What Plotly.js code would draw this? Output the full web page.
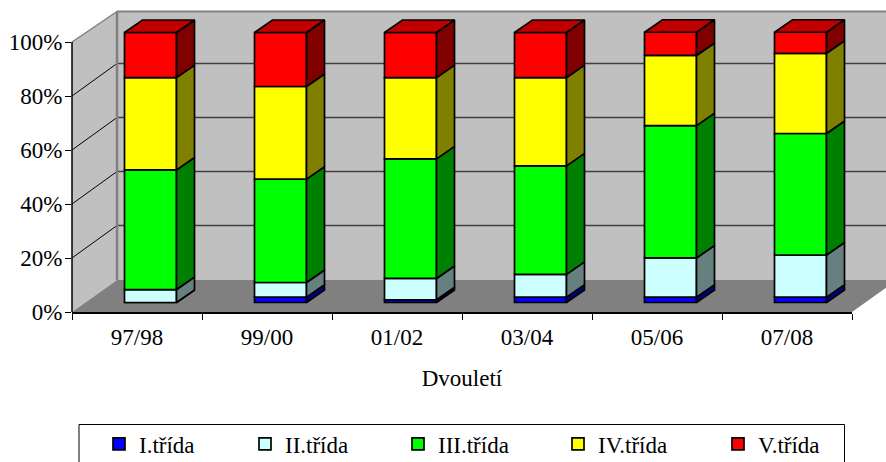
<!DOCTYPE html>
<html>
<head>
<meta charset="utf-8">
<script src="https://cdn.plot.ly/plotly-3.0.1.min.js"></script>
<style>html,body{margin:0;padding:0;background:#fff;overflow:hidden}</style>
</head>
<body>
<div id="chart" style="width:886px;height:462px"></div>
<script>
const categories = ["97/98","99/00","01/02","03/04","05/06","07/08"];
const seriesNames = ["I.třída","II.třída","III.třída","IV.třída","V.třída"];
const trida1 = [0,2,1,2,2,2];
const trida2 = [4.8,5.4,7.9,8.4,14.5,15.6];
const trida3 = [44.3,38.3,44.3,40.2,49,45];
const trida4 = [34.2,34.3,30.1,32.7,26,29.7];
const trida5 = [16.7,20,16.7,16.7,8.6,7.8];
const frontColors = ["#0000FF","#CCFFFF","#00FF00","#FFFF00","#FF0000"];
const sideColors  = ["#000080","#668080","#008000","#808000","#800000"];
const topColor = "#C00000";
const tickPercents = [0,20,40,60,80,100];
const legendLeft = [99,245,398,558,718];

const allSeries = [trida1,trida2,trida3,trida4,trida5];
// pixel geometry: T is where 100 % sits, PT the top of the Plotly plot rectangle
const L=72,R=852,T=42,PT=6,B=312,W=R-L;
const pxPerCat=W/categories.length, pxPerPct=(B-T)/100;
const wallDX=45, wallTopDY=30.5, wallGridDY=32.5, wallFloorDY=32;  // depth of the chart box
const barDX=13.5, barDY=9.5;         // front face of the bars inside the box
const depthDX=18, depthDY=12.5;      // depth of a bar
const barW=52;

const px=v=>(v-L)/W, py=v=>(B-v)/(B-PT);
const pth=pts=>"M"+pts.map(p=>px(p[0])+","+py(p[1])).join("L")+"Z";
const shape=(pts,fill)=>({type:"path",xref:"paper",yref:"paper",layer:"below",path:pth(pts),fillcolor:fill,line:{width:0}});
const seg=(x0,y0,x1,y1,color,width)=>({type:"line",xref:"paper",yref:"paper",layer:"below",x0:px(x0),y0:py(y0),x1:px(x1),y1:py(y1),line:{color:color,width:width}});

const shapes=[
  shape([[L+wallDX,T-wallTopDY],[R+wallDX,T-wallTopDY],[R+wallDX,B-wallFloorDY],[L+wallDX,B-wallFloorDY]],"#C0C0C0"),
  shape([[L,T],[L+wallDX,T-wallTopDY],[L+wallDX,B-wallFloorDY],[L,B]],"#C0C0C0"),
  shape([[L,B],[L+wallDX,B-wallFloorDY],[R+wallDX,B-wallFloorDY],[R,B]],"#808080")
];
tickPercents.filter(p=>p>0&&p<100).forEach(p=>{
  const y=B-p*pxPerPct;
  shapes.push(seg(L,y,L+wallDX,y-wallGridDY,"#000",1));
  shapes.push(seg(L+wallDX,y-wallGridDY,R+wallDX,y-wallGridDY,"#404040",1.3));
});
shapes.push(seg(L,T,L+wallDX,T-wallTopDY,"#808080",1.5));
shapes.push(seg(L+wallDX,T-wallTopDY,L+wallDX,B-wallFloorDY,"#808080",2.5));
shapes.push(seg(L+wallDX,T-wallTopDY,R+wallDX,T-wallTopDY,"#808080",2));
shapes.push(seg(L,T,L,B,"#000",1.5));
// legend frame, running past the bottom edge as in the reference
shapes.push({type:"rect",xref:"paper",yref:"paper",layer:"below",x0:px(79),x1:px(844.5),y0:py(424.5),y1:py(480),line:{color:"#000",width:1},fillcolor:"#fff"});

const unitX=barDX/pxPerCat, unitY=barDY/pxPerPct, wUnit=barW/pxPerCat;
const dU=depthDX/pxPerCat, dV=depthDY/pxPerPct;

const traces=[], legends={};
const cum=categories.map(()=>0);
const font={family:"Liberation Serif",size:23,color:"#000"};
allSeries.forEach((vals,s)=>{
  const base=cum.map(c=>c+unitY);
  const legendId=s===0?"legend":"legend"+(s+1);
  traces.push({type:"bar",name:seriesNames[s],x:categories,y:vals,base:base,
    width:wUnit,offset:unitX-wUnit/2,legend:legendId,
    marker:{color:frontColors[s],line:{color:"#000",width:1.7}},hoverinfo:"x+y+name"});
  legends[legendId]={x:px(legendLeft[s]),y:py(444),xanchor:"left",yanchor:"middle",
    bgcolor:"rgba(0,0,0,0)",borderwidth:0,font:font};
  const sx=[],sy=[];
  vals.forEach((v,i)=>{
    const xr=i+unitX+wUnit/2, y0=base[i], y1=base[i]+v;
    sx.push(xr,xr,xr+dU,xr+dU,xr,null);
    sy.push(y0,y1,y1+dV,y0+dV,y0,null);
    cum[i]+=v;
  });
  traces.push({type:"scatter",mode:"lines",x:sx,y:sy,xaxis:"x2",fill:"toself",fillcolor:sideColors[s],
    line:{color:"#000",width:1.7},showlegend:false,hoverinfo:"skip"});
});
const tx=[],ty=[];
cum.forEach((c,i)=>{
  const xl=i+unitX-wUnit/2, xr=xl+wUnit, y=c+unitY;
  tx.push(xl,xr,xr+dU,xl+dU,xl,null);
  ty.push(y,y,y+dV,y+dV,y,null);
});
traces.push({type:"scatter",mode:"lines",x:tx,y:ty,xaxis:"x2",fill:"toself",fillcolor:topColor,
  line:{color:"#000",width:1.7},showlegend:false,hoverinfo:"skip"});

const layout=Object.assign({
  width:886,height:462,margin:{l:L,r:886-R,t:PT,b:462-B,pad:0,autoexpand:false},
  paper_bgcolor:"#fff",plot_bgcolor:"rgba(0,0,0,0)",font:font,barmode:"overlay",
  xaxis:{type:"category",categoryorder:"array",categoryarray:categories,tickson:"boundaries",
    ticks:"outside",ticklen:6,tickcolor:"#000",tickwidth:1,showline:true,linecolor:"#000",linewidth:1.5,
    ticklabelstandoff:4,showgrid:false,zeroline:false,title:{text:"Dvouletí",font:font,standoff:21},tickfont:font},
  xaxis2:{overlaying:"x",range:[-0.5,categories.length-0.5],visible:false,anchor:"y"},
  yaxis:{range:[0,(B-PT)/pxPerPct],tickvals:tickPercents,ticktext:tickPercents.map(p=>p+"%"),ticks:"outside",ticklen:6,
    ticklabelstandoff:-2,tickcolor:"#000",tickwidth:1,showline:false,showgrid:false,zeroline:false,tickfont:font},
  shapes:shapes,showlegend:true
},legends);
Plotly.newPlot("chart",traces,layout,{displayModeBar:false,responsive:false});
</script>
</body>
</html>
